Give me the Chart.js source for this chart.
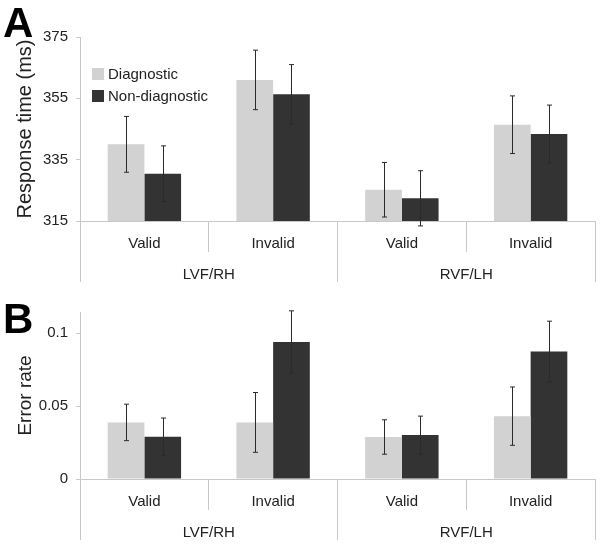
<!DOCTYPE html>
<html>
<head>
<meta charset="utf-8">
<script src="https://cdn.jsdelivr.net/npm/chart.js@4/dist/chart.umd.min.js"></script>
<style>
  body { margin: 0; background: #fff; }
  #wrap { position: relative; width: 602px; height: 547px; }
  canvas { position: absolute; left: 0; }
  #cA { top: 0; }
  #cB { top: 282px; }
</style>
</head>
<body>
<div id="wrap">
  <canvas id="cA" width="602" height="282"></canvas>
  <canvas id="cB" width="602" height="265"></canvas>
</div>
<script>
// データ
const catLabels = ['Valid', 'Invalid', 'Valid', 'Invalid'];
const groupLabels = ['LVF/RH', 'RVF/LH'];
const seriesNames = ['Diagnostic', 'Non-diagnostic'];

const rtDiag = [340, 361, 325.2, 346.4];
const rtDiagErr = [9.1, 9.7, 8.9, 9.4];
const rtNon = [330.4, 356.3, 322.4, 343.4];
const rtNonErr = [9.1, 9.7, 9.0, 9.4];
const rtTicks = [315, 335, 355, 375];

const erDiag = [0.0388, 0.0388, 0.0288, 0.0431];
const erDiagErr = [0.0125, 0.0205, 0.0118, 0.0200];
const erNon = [0.029, 0.094, 0.0301, 0.0874];
const erNonErr = [0.0128, 0.0213, 0.0130, 0.0208];
const erTicks = [0, 0.05, 0.1];

const LIGHT = '#d2d2d2';
const DARK = '#333333';
const AXIS = '#c8c8c8';
const FONT = "'Liberation Sans', Arial, sans-serif";

Chart.defaults.font.family = FONT;
Chart.defaults.color = '#222';

// エラーバー
const errorBars = {
  id: 'errorBars',
  afterDatasetsDraw(chart, args, opts) {
    const ctx = chart.ctx;
    const y = chart.scales.y;
    ctx.save();
    ctx.strokeStyle = '#2a2a2a';
    ctx.lineWidth = 1;
    chart.data.datasets.forEach((ds, di) => {
      const meta = chart.getDatasetMeta(di);
      meta.data.forEach((bar, i) => {
        const v = ds.data[i], e = ds.err[i];
        const x = Math.round(bar.x) + 0.5;
        const yt = y.getPixelForValue(v + e), yb = y.getPixelForValue(v - e);
        ctx.beginPath();
        ctx.moveTo(x, yt); ctx.lineTo(x, yb);
        ctx.moveTo(x - 2.5, yt); ctx.lineTo(x + 2.5, yt);
        ctx.moveTo(x - 2.5, yb); ctx.lineTo(x + 2.5, yb);
        ctx.stroke();
      });
    });
    ctx.restore();
  }
};

// パネル文字と凡例
const decorations = {
  id: 'decorations',
  afterDraw(chart, args, opts) {
    const ctx = chart.ctx;
    ctx.save();
    ctx.fillStyle = '#000';
    ctx.font = 'bold 42px ' + FONT;
    ctx.textBaseline = 'alphabetic';
    ctx.fillText(opts.letter, 3, opts.letterY);
    if (opts.legend) {
      ctx.font = '15px ' + FONT;
      ctx.textBaseline = 'middle';
      chart.data.datasets.forEach((ds, i) => {
        const cy = 74 + i * 22;
        ctx.fillStyle = ds.backgroundColor;
        ctx.fillRect(92, cy - 6, 12, 12);
        ctx.fillStyle = '#222';
        ctx.fillText(ds.label, 108, cy + 1);
      });
    }
    ctx.restore();
  }
};

function makeChart(id, d1, e1, d2, e2, ticks, yMin, yMax, title, titleSize, cfg) {
  return new Chart(document.getElementById(id), {
    type: 'bar',
    data: {
      labels: catLabels,
      datasets: [
        { label: seriesNames[0], data: d1, err: e1, backgroundColor: LIGHT, xAxisID: 'x' },
        { label: seriesNames[1], data: d2, err: e2, backgroundColor: DARK, xAxisID: 'x' }
      ]
    },
    options: {
      responsive: false,
      animation: false,
      devicePixelRatio: 1,
      categoryPercentage: 0.57,
      barPercentage: 1.0,
      layout: { padding: { left: 0, right: 7, top: cfg.top, bottom: cfg.bottom } },
      plugins: {
        legend: { display: false },
        tooltip: { enabled: false },
        decorations: { letter: cfg.letter, letterY: cfg.letterY, legend: cfg.legend }
      },
      scales: {
        x: {
          type: 'category',
          position: 'bottom',
          offset: true,
          grid: { offset: true, drawOnChartArea: false, color: AXIS, tickLength: cfg.tl1 },
          border: { color: AXIS },
          ticks: { font: { size: 15 }, padding: -17, autoSkip: false, maxRotation: 0 },
          afterFit: s => { s.height = cfg.tl1; }
        },
        x2: {
          type: 'category',
          position: 'bottom',
          labels: groupLabels,
          offset: true,
          grid: { offset: true, drawOnChartArea: false, color: AXIS, tickLength: cfg.tl2 },
          border: { display: false },
          ticks: { font: { size: 15 }, padding: -16, autoSkip: false, maxRotation: 0 },
          afterFit: s => { s.height = cfg.tl2; }
        },
        y: {
          min: yMin,
          max: yMax,
          grid: { drawOnChartArea: false, color: AXIS, tickLength: 4 },
          border: { color: AXIS },
          afterBuildTicks: s => { s.ticks = ticks.map(v => ({ value: v })); },
          ticks: { font: { size: 15 }, padding: 8, callback: v => String(v) },
          title: { display: true, text: title, font: { size: titleSize }, padding: { top: cfg.tpad, bottom: 0 } },
          afterFit: s => { s.width = 80; }
        }
      }
    },
    plugins: [errorBars, decorations]
  });
}

makeChart('cA', rtDiag, rtDiagErr, rtNon, rtNonErr, rtTicks, 315, 375, 'Response time (ms)', 20,
  { top: 37, bottom: 0, tl1: 31, tl2: 30, letter: 'A', letterY: 37, legend: true, tpad: 13 });
makeChart('cB', erDiag, erDiagErr, erNon, erNonErr, erTicks, 0, 0.1145, 'Error rate', 19,
  { top: 30, bottom: 7, tl1: 31, tl2: 30, letter: 'B', letterY: 51, legend: false, tpad: 14 });
</script>
</body>
</html>
